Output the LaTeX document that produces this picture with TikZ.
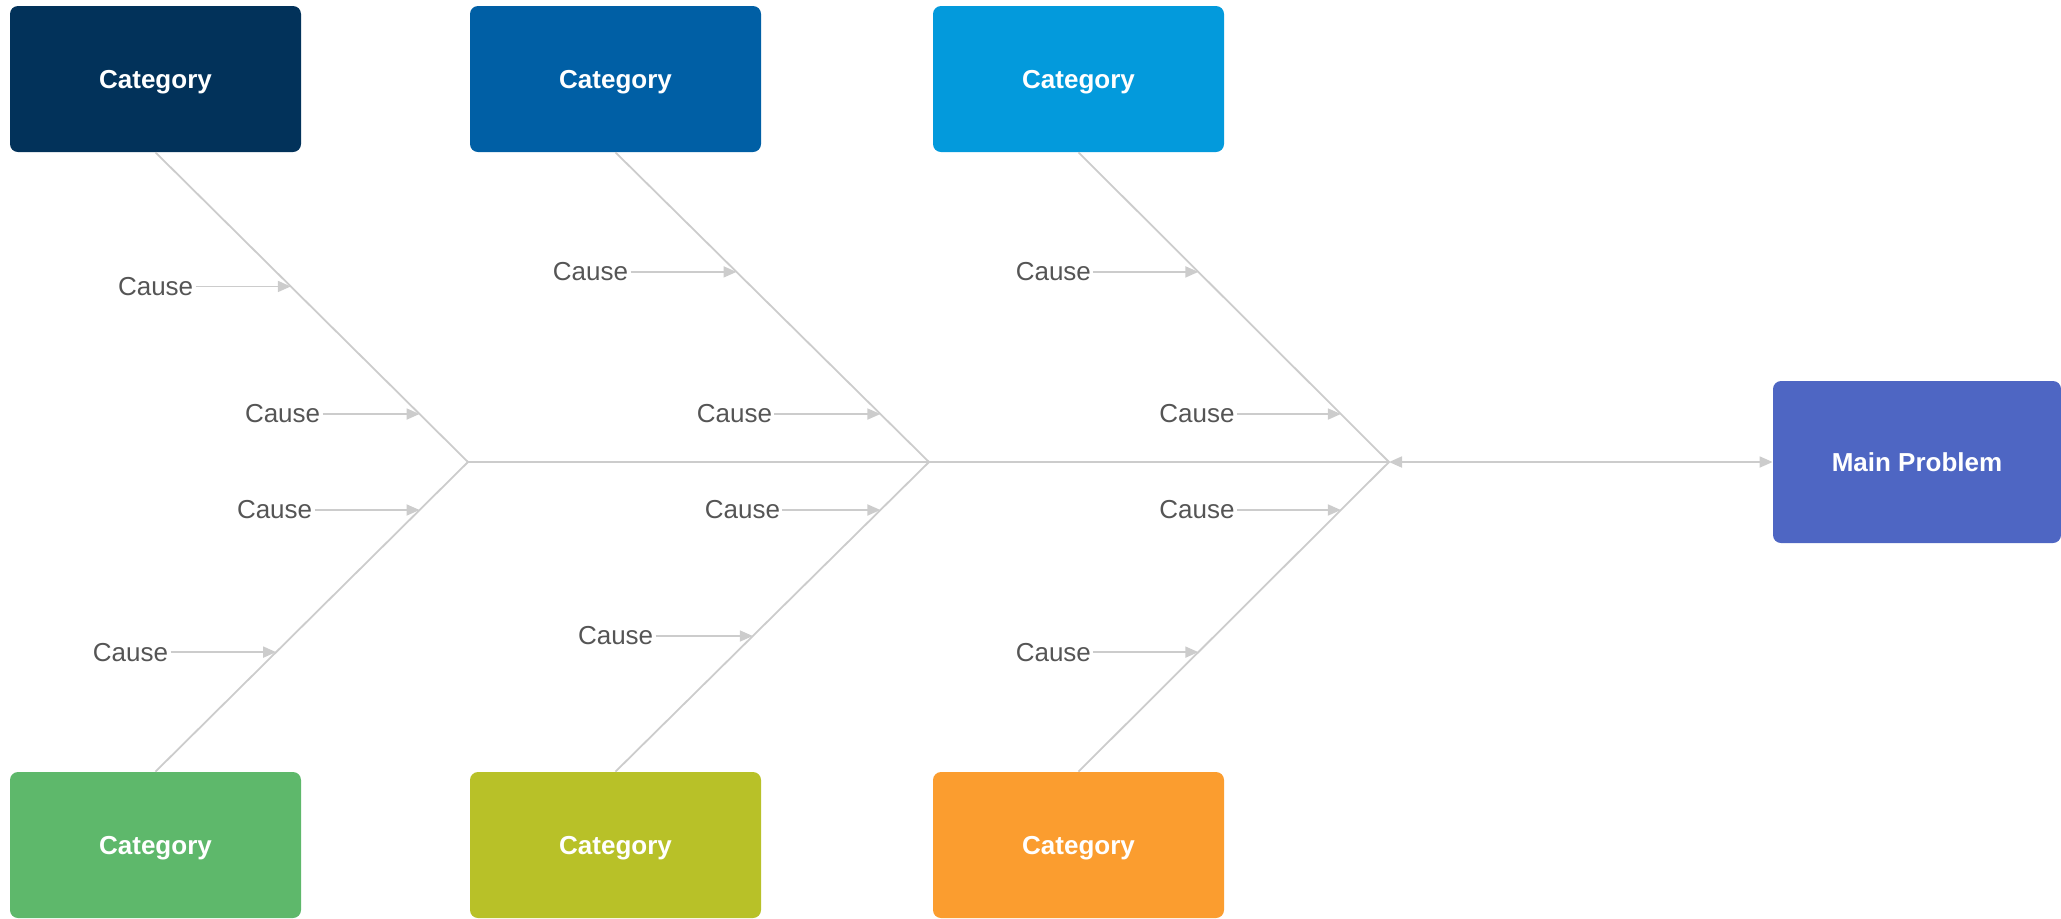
\documentclass[tikz,border=0pt]{standalone}
\usepackage{fontspec}
\setmainfont{Liberation Sans}
\usetikzlibrary{arrows.meta,calc,positioning}

\definecolor{navyfill}{HTML}{02325A}
\definecolor{bluefill}{HTML}{005FA5}
\definecolor{skyfill}{HTML}{039ADC}
\definecolor{greenfill}{HTML}{5EB86B}
\definecolor{olivefill}{HTML}{B8C128}
\definecolor{orangefill}{HTML}{FB9D2F}
\definecolor{mainfill}{HTML}{4E66C3}
\definecolor{bonegray}{HTML}{CCCCCC}
\definecolor{causegray}{HTML}{555555}

\begin{document}
\begin{tikzpicture}[x=0.5pt,y=-0.5pt,
  category/.style={rounded corners=4pt, minimum width=145.5pt, minimum height=73pt,
    inner sep=0pt, text depth=0pt, text=white, font=\fontsize{13}{15}\selectfont\bfseries},
  cause/.style={text=causegray, font=\fontsize{13}{15}\selectfont, inner sep=1pt},
  bone/.style={draw=bonegray, line width=0.9pt},
  causearrow/.style={bone, -{Triangle[length=6.5pt,width=5.5pt]}},
]
\useasboundingbox (0,0) rectangle (2061,918);

% spine junctions
\coordinate (j1) at (468,462);
\coordinate (j2) at (929,462);
\coordinate (j3) at (1389,462);

% category boxes
\node[category, fill=navyfill]   (t1) at (155.5,79) {Category};
\node[category, fill=bluefill]   (t2) at (615.5,79) {Category};
\node[category, fill=skyfill]    (t3) at (1078.5,79) {Category};
\node[category, fill=greenfill]  (b1) at (155.5,845) {Category};
\node[category, fill=olivefill]  (b2) at (615.5,845) {Category};
\node[category, fill=orangefill] (b3) at (1078.5,845) {Category};
\node[category, fill=mainfill, minimum width=144pt, minimum height=81pt] (main) at (1917,462) {Main Problem};

% bones and spine
\draw[bone] (t1.south) -- (j1) -- (b1.north);
\draw[bone] (t2.south) -- (j2) -- (b2.north);
\draw[bone] (t3.south) -- (j3) -- (b3.north);
\draw[bone] (j1) -- (j2) -- (j3);
\draw[bone, {Triangle[length=6.5pt,width=5.5pt]}-{Triangle[length=6.5pt,width=5.5pt]}] (j3) -- (main.west);

% points where the causes meet the bones
\coordinate (p1a) at ($(t1.south)!0.433!(j1)$);
\coordinate (p1b) at ($(t1.south)!0.845!(j1)$);
\coordinate (p1c) at ($(j1)!0.155!(b1.north)$);
\coordinate (p1d) at ($(j1)!0.614!(b1.north)$);
\coordinate (p2a) at ($(t2.south)!0.386!(j2)$);
\coordinate (p2b) at ($(t2.south)!0.845!(j2)$);
\coordinate (p2c) at ($(j2)!0.155!(b2.north)$);
\coordinate (p2d) at ($(j2)!0.562!(b2.north)$);
\coordinate (p3a) at ($(t3.south)!0.386!(j3)$);
\coordinate (p3b) at ($(t3.south)!0.845!(j3)$);
\coordinate (p3c) at ($(j3)!0.155!(b3.north)$);
\coordinate (p3d) at ($(j3)!0.614!(b3.north)$);

% cause labels
\node[cause, left=47.6pt of p1a] (c1a) {Cause};
\node[cause, left=48.5pt of p1b] (c1b) {Cause};
\node[cause, left=52.5pt of p1c] (c1c) {Cause};
\node[cause, left=52.8pt of p1d] (c1d) {Cause};
\node[cause, left=53pt of p2a] (c2a) {Cause};
\node[cause, left=53pt of p2b] (c2b) {Cause};
\node[cause, left=49pt of p2c] (c2c) {Cause};
\node[cause, left=48.6pt of p2d] (c2d) {Cause};
\node[cause, left=52.5pt of p3a] (c3a) {Cause};
\node[cause, left=52pt of p3b] (c3b) {Cause};
\node[cause, left=52pt of p3c] (c3c) {Cause};
\node[cause, left=52.5pt of p3d] (c3d) {Cause};

% cause arrows
\foreach \g in {1,2,3}{
  \foreach \k in {a,b,c,d}{
    \draw[causearrow] (c\g\k.east) -- (p\g\k);
  }
}
\end{tikzpicture}
\end{document}
